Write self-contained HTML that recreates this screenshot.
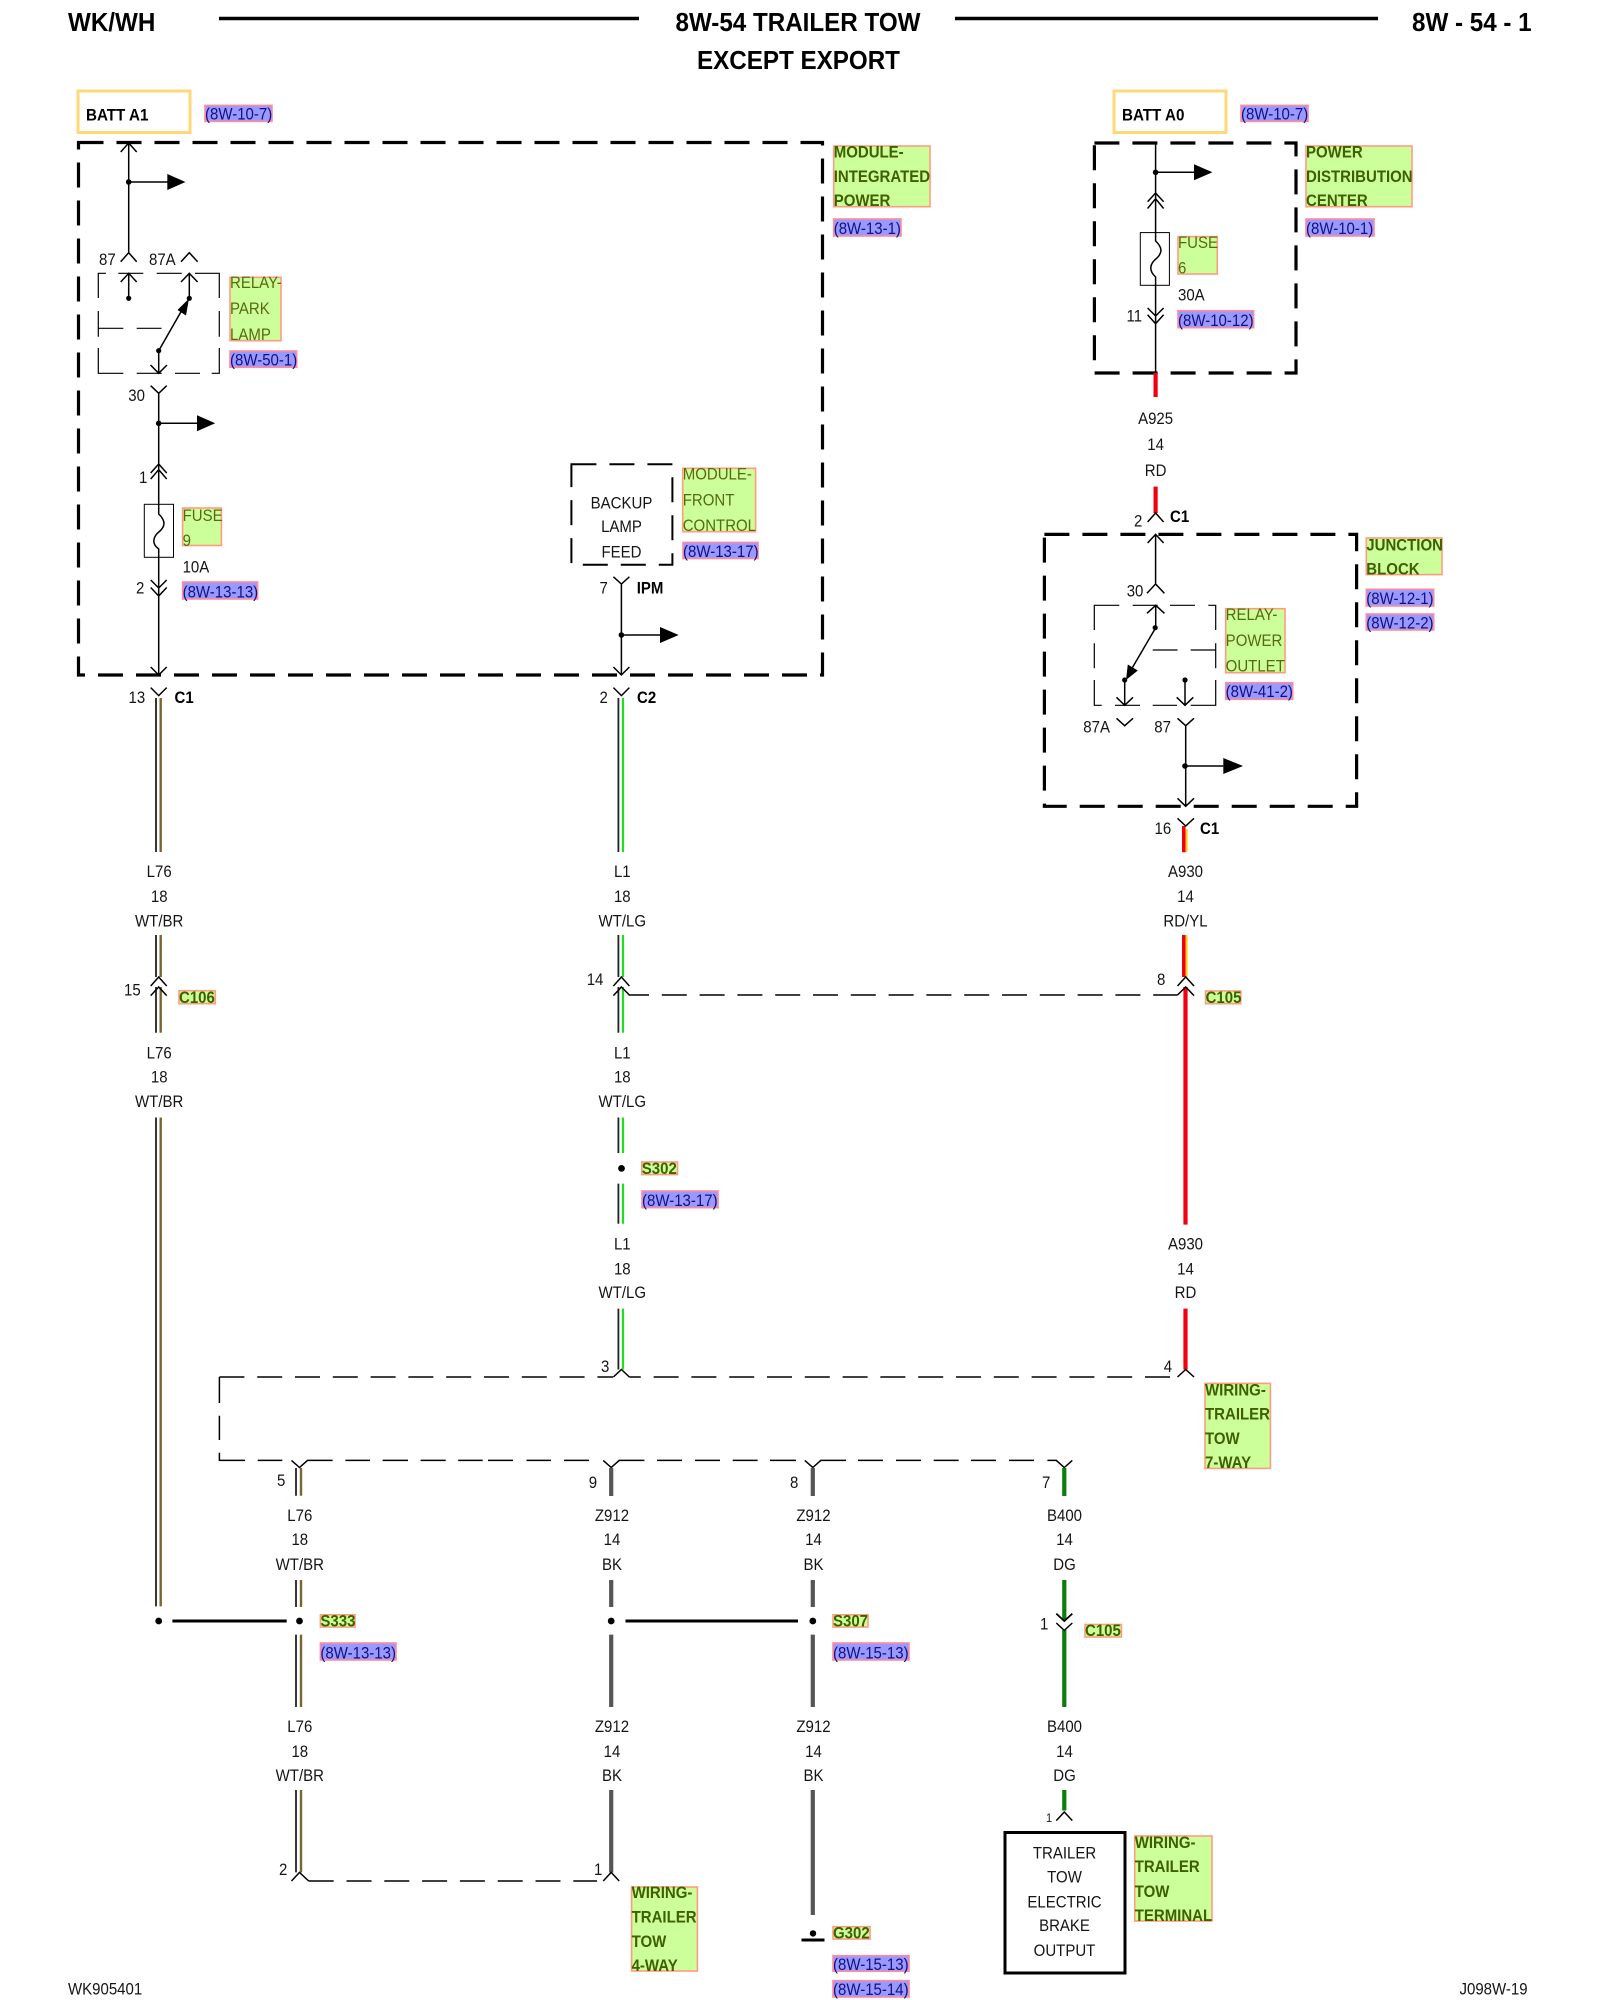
<!DOCTYPE html>
<html><head><meta charset="utf-8"><title>8W-54 Trailer Tow</title>
<style>
html,body{margin:0;padding:0;background:#fff}
svg{display:block}
text{font-family:"Liberation Sans",Arial,sans-serif;font-size:15px;fill:#151515;transform:scaleY(1.08);transform-box:fill-box;transform-origin:50% 81%}
.m{text-anchor:middle}
.b{font-weight:bold;fill:#000}
.g{fill:#586a10}
.gb{fill:#3f6000;font-weight:bold}
.n{fill:#101088}
.T{font-size:24.2px;font-weight:bold;fill:#000}
.h{fill:#ccff99;stroke:#ff9c80;stroke-width:1.6}
.l{fill:#9999ff;stroke:#ff8c9c;stroke-width:1.6}
.y{fill:none;stroke:#ffd87a;stroke-width:3}
.w{fill:none;stroke:#000;stroke-width:1.5}
.d{fill:none;stroke:#000;stroke-width:1.5;stroke-dasharray:25 12.8}
.D{fill:none;stroke:#000;stroke-width:3.2;stroke-dasharray:25 13}
.k{fill:none;stroke:#222;stroke-width:1.8}
.br{fill:none;stroke:#7a6432;stroke-width:2.4}
.lg{fill:none;stroke:#1fe01f;stroke-width:2.2}
.rd{fill:none;stroke:#f00010;stroke-width:4.2}
.bk{fill:none;stroke:#555;stroke-width:4.2}
.dg{fill:none;stroke:#0a7d0a;stroke-width:4.2}
</style></head>
<body>
<svg width="1600" height="2000" viewBox="0 0 1600 2000" xmlns="http://www.w3.org/2000/svg">
<rect width="1600" height="2000" fill="#fff"/>

<!-- header -->
<path d="M219 18.5H639M955 18.5H1378" stroke="#000" stroke-width="3.6" fill="none"/>
<text class="T" x="68" y="31">WK/WH</text>
<text class="T m" x="798" y="31">8W-54 TRAILER TOW</text>
<text class="T m" x="798.5" y="69">EXCEPT EXPORT</text>
<text class="T" x="1412" y="31">8W - 54 - 1</text>

<!-- BATT boxes -->
<rect class="y" x="78" y="91" width="112" height="41.5"/>
<text class="b" x="86" y="120.5" style="font-size:15.2px">BATT A1</text>
<rect class="l" x="205" y="105.4" width="67" height="16"/>
<text class="n" x="205" y="119.6">(8W-10-7)</text>
<rect class="y" x="1114" y="91" width="112" height="41.5"/>
<text class="b" x="1122" y="120.5" style="font-size:15.2px">BATT A0</text>
<rect class="l" x="1241" y="105.4" width="67" height="16"/>
<text class="n" x="1241" y="119.6">(8W-10-7)</text>

<!-- dashed module boxes -->
<path class="D" d="M78.5 142.5H822.5V675H78.5Z"/>
<path class="D" d="M1094.4 143H1296V373H1094.4Z"/>
<path class="D" d="M1044.4 534.4H1356.6V806.3H1044.4Z"/>
<path class="D" style="stroke-width:2" d="M571.4 464.3H672.4V564.7H571.4Z"/>

<!-- left column: upper -->
<path class="w" d="M128.7 143V252.7M120.7 152L128.7 143L136.7 152M128.7 182H168M120.7 261.7L128.7 252.7L136.7 261.7M181 261.7L189.3 252.7L197.6 261.7"/>
<circle cx="128.7" cy="182" r="2.8"/><path d="M167.3 174V190L185.5 182Z"/>
<text x="99" y="265">87</text><text x="149" y="265">87A</text>

<!-- relay park lamp -->
<path class="w" style="stroke-width:1.2" d="M98.3 280.7V273.3H106M118.3 273.3H143.3M156.7 273.3H181.7M195 273.3H219.3V298M219.3 311V336.7M219.3 348V373.3H211.7M200 373.3H175M161.7 373.3H136.7M123.3 373.3H98.3V348M98.3 336.7V311M98.3 298V273.3M98.3 328.3H123.3M136.7 328.3H161.5"/>
<path class="w" d="M128.7 273.3V298.3M120.7 282L128.7 273.3L136.7 282M189.3 273.3V298.3M181 282L189.3 273.3L197.6 282M158.7 350.7L182 310M158.7 350.7V373.3M150.5 365L158.7 373.3L167 365"/>
<circle cx="128.7" cy="298.3" r="2.6"/><circle cx="189.3" cy="298.3" r="2.6"/><circle cx="158.7" cy="350.7" r="2.6"/>
<path d="M189 298.5L177.5 310L186 315.5Z"/>
<rect class="h" x="230" y="277.3" width="51" height="63.4"/>
<text class="g" x="230" y="288.3">RELAY-</text><text class="g" x="230" y="314.3">PARK</text><text class="g" x="230" y="340">LAMP</text>
<rect class="l" x="230" y="351" width="66.7" height="16.3"/>
<text class="n" x="230" y="365.5">(8W-50-1)</text>

<!-- 30 + fuse 9 -->
<path class="w" d="M150.7 385.7L158.7 393.3L166.7 385.7M158.7 393.3V514C166 521 165 526 160 531C152 537 152 544 158.7 549V675M158.7 423.3H197M150.7 473L158.7 464L166.7 473M150.7 479L158.7 469.6L166.7 479M150.7 580L158.7 588L166.7 580M150.7 587.5L158.7 596L166.7 587.5M150.7 667L158.7 675L166.7 667"/>
<circle cx="158.7" cy="423.3" r="2.8"/><path d="M197 415.3V431.3L215.2 423.3Z"/>
<text x="128.3" y="401">30</text>
<text x="139" y="483">1</text>
<rect x="144.3" y="504.3" width="29.2" height="53" fill="none" stroke="#000" stroke-width="1"/>
<rect class="h" x="182.6" y="508" width="38.8" height="37.5"/>
<text class="g" x="182.6" y="521">FUSE</text><text class="g" x="182.6" y="546">9</text>
<text x="182.6" y="572.8">10A</text>
<text x="136" y="593.7">2</text>
<rect class="l" x="182.6" y="582" width="75" height="17"/>
<text class="n" x="182.6" y="597.5">(8W-13-13)</text>

<!-- backup lamp feed -->
<text class="m" x="621.5" y="508.5">BACKUP</text><text class="m" x="621.5" y="532.3">LAMP</text><text class="m" x="621.5" y="557.5">FEED</text>
<rect class="h" x="682.7" y="468.3" width="72.9" height="63.4"/>
<text class="g" x="682.7" y="479.5">MODULE-</text><text class="g" x="682.7" y="505.8">FRONT</text><text class="g" x="682.7" y="531">CONTROL</text>
<rect class="l" x="683" y="542.4" width="75" height="16.1"/>
<text class="n" x="683" y="557">(8W-13-17)</text>
<text x="599.5" y="593.7">7</text><text class="b" x="636.7" y="593.7">IPM</text>
<path class="w" d="M613.4 576.8L621.4 584L629.4 576.8M621.4 584V675M621.4 635H660M613.4 667L621.4 675L629.4 667"/>
<circle cx="621.4" cy="635" r="2.8"/><path d="M660 627V643L678.7 635Z"/>

<!-- module labels -->
<rect class="h" x="833.7" y="146" width="96.3" height="60.7"/>
<text class="gb" x="833.7" y="157.6">MODULE-</text><text class="gb" x="833.7" y="182">INTEGRATED</text><text class="gb" x="833.7" y="206">POWER</text>
<rect class="l" x="833.7" y="219" width="67.3" height="17"/>
<text class="n" x="833.7" y="234">(8W-13-1)</text>
<rect class="h" x="1306" y="146" width="106" height="60.7"/>
<text class="gb" x="1306" y="157.6">POWER</text><text class="gb" x="1306" y="182">DISTRIBUTION</text><text class="gb" x="1306" y="206">CENTER</text>
<rect class="l" x="1306" y="219" width="68" height="17"/>
<text class="n" x="1306" y="234">(8W-10-1)</text>

<!-- power distribution center -->
<path class="w" d="M1155.6 143V241C1163 248 1162 253 1157 258C1149 264 1149 271 1155.6 277V373M1155.6 172.3H1194M1147.6 201.8L1155.6 193L1163.6 201.8M1147.6 208.5L1155.6 198.7L1163.6 208.5M1147.6 308L1155.6 316L1163.6 308M1147.6 314.7L1155.6 323.7L1163.6 314.7"/>
<circle cx="1155.6" cy="172.3" r="2.8"/><path d="M1194 164.3V180.3L1212.4 172.3Z"/>
<rect x="1140.3" y="232.6" width="29.1" height="52.7" fill="none" stroke="#000" stroke-width="1"/>
<rect class="h" x="1178" y="236.6" width="39.3" height="37.4"/>
<text class="g" x="1178" y="248">FUSE</text><text class="g" x="1178" y="273.6">6</text>
<text x="1178" y="300.4">30A</text>
<text x="1126.5" y="321.4">11</text>
<rect class="l" x="1178" y="310.7" width="75.6" height="17"/>
<text class="n" x="1178" y="326">(8W-10-12)</text>

<!-- A925 -->
<path class="rd" d="M1155.6 373V397M1155.6 486.6V513"/>
<text class="m" x="1155.6" y="424">A925</text><text class="m" x="1155.6" y="450">14</text><text class="m" x="1155.6" y="476">RD</text>
<path class="w" d="M1147.6 522L1155.6 513L1163.6 522M1147.6 543L1155.6 534.4L1163.6 543M1155.6 534.4V584M1147 593.3L1155.6 584L1164.4 593.3"/>
<text x="1134" y="526.8">2</text><text class="b" x="1170" y="522">C1</text>
<text x="1126.7" y="596.7">30</text>
<rect class="h" x="1366.3" y="538" width="75.7" height="36.6"/>
<text class="gb" x="1366.3" y="550.4">JUNCTION</text><text class="gb" x="1366.3" y="574.6">BLOCK</text>
<rect class="l" x="1366.3" y="589.3" width="67.4" height="16.7"/>
<text class="n" x="1366.3" y="604.2">(8W-12-1)</text>
<rect class="l" x="1366.3" y="614" width="67.4" height="16"/>
<text class="n" x="1366.3" y="628.6">(8W-12-2)</text>

<!-- relay power outlet -->
<path class="w" style="stroke-width:1.2" d="M1094.3 630V605.3H1119.3M1132.7 605.3H1157.7M1170 605.3H1195M1208.3 605.3H1215.7V630M1215.7 643.3V668.3M1215.7 680V705.3H1190.7M1177 705.3H1152.7M1140 705.3H1115M1101.7 705.3H1094.3V680M1094.3 668.3V643.3M1152.7 650H1177.5M1190.7 650H1215.7"/>
<path class="w" d="M1155.7 605.3V627.7M1147 613.3L1155.7 605.3L1164.4 613.3M1155.7 627.7L1131 670M1124.7 680V705.3M1116.5 697.3L1124.7 705.3L1133 697.3M1185 680V705.3M1176.7 697.3L1185 705.3L1193.3 697.3M1116.5 718.3L1124.7 725.7L1133 718.3M1177.5 718.3L1185.7 725.7L1194 718.3M1185.7 725.7V806.3M1185.7 766H1223.3M1177.5 798.3L1185.7 806.3L1194 798.3M1177.5 818.3L1185.7 826L1194 818.3"/>
<circle cx="1155.2" cy="627.7" r="2.6"/><circle cx="1124.7" cy="680" r="2.6"/><circle cx="1185" cy="680" r="2.6"/><circle cx="1185" cy="766" r="2.8"/>
<path d="M1126 680L1127.8 664.5L1137.8 670.5Z"/>
<path d="M1223.3 758V774L1243 766Z"/>
<rect class="h" x="1225.7" y="608.7" width="59.3" height="64"/>
<text class="g" x="1225.7" y="620">RELAY-</text><text class="g" x="1225.7" y="646">POWER</text><text class="g" x="1225.7" y="671.7">OUTLET</text>
<rect class="l" x="1225.7" y="682.7" width="67" height="16.6"/>
<text class="n" x="1225.7" y="697">(8W-41-2)</text>
<text x="1083.3" y="732.7">87A</text><text x="1154.3" y="732.7">87</text>
<text x="1154.5" y="834">16</text><text class="b" x="1200" y="834">C1</text>

<!-- connectors at C1/C2 -->
<path class="w" d="M150.7 687.6L158.7 695.6L166.7 687.6M613.4 687.6L621.4 695.6L629.4 687.6"/>
<text x="128.5" y="703">13</text><text class="b" x="174.5" y="703">C1</text>
<text x="599.5" y="703">2</text><text class="b" x="637" y="703">C2</text>

<!-- L76 column -->
<path class="k" d="M156 698V852M156 935V977M156 987V1032.7M156 1117.5V1606.4"/>
<path class="br" d="M160.7 698V852M160.7 935V977M160.7 987V1032.7M160.7 1117.5V1606.4"/>
<path class="w" d="M150.7 986L158.7 977L166.7 986M150.7 995.6L158.7 987L166.7 995.6"/>
<text class="m" x="159.2" y="877">L76</text><text class="m" x="159.2" y="902">18</text><text class="m" x="159.2" y="926.4">WT/BR</text>
<text x="124" y="995.6">15</text>
<rect class="h" x="179" y="990.7" width="36.3" height="13"/>
<text class="gb" x="179" y="1003">C106</text>
<text class="m" x="159.2" y="1058.6">L76</text><text class="m" x="159.2" y="1082.7">18</text><text class="m" x="159.2" y="1107">WT/BR</text>

<!-- L1 column -->
<path class="k" d="M618.4 698V852M618.4 935V977M618.4 987V1032.7M618.4 1117.5V1153M618.4 1183.6V1223.8M618.4 1308.6V1369.5"/>
<path class="lg" d="M623 698V852M623 935V977M623 987V1032.7M623 1117.5V1153M623 1183.6V1223.8M623 1308.6V1369.5"/>
<path class="w" d="M613.4 986L621.4 977L629.4 986M613.4 995.6L621.4 987L629.4 995M613.4 1377L621.4 1369.5L629.4 1377"/>
<text class="m" x="622.3" y="877">L1</text><text class="m" x="622.3" y="902">18</text><text class="m" x="622.3" y="926.4">WT/LG</text>
<text x="586.7" y="985">14</text>
<text class="m" x="622.3" y="1058.6">L1</text><text class="m" x="622.3" y="1082.7">18</text><text class="m" x="622.3" y="1107">WT/LG</text>
<circle cx="621.5" cy="1168.4" r="3.4"/>
<rect class="h" x="641.8" y="1162" width="35.7" height="12.6"/>
<text class="gb" x="641.8" y="1174">S302</text>
<rect class="l" x="642" y="1191" width="76" height="16.7"/>
<text class="n" x="642" y="1206">(8W-13-17)</text>
<text class="m" x="622.3" y="1249.6">L1</text><text class="m" x="622.3" y="1274.6">18</text><text class="m" x="622.3" y="1298.3">WT/LG</text>
<text x="601" y="1372">3</text>

<!-- A930 column -->
<path d="M1182 826H1185.5V852.3H1182ZM1182 935H1185.5V977H1182Z" fill="#f00010"/>
<path d="M1185.5 829H1187.6V852.3H1185.5ZM1185.5 935H1187.6V977H1185.5Z" fill="#f4d21e"/>
<path class="rd" d="M1185.5 987V1224.6M1185.5 1308.6V1369.5"/>
<path class="w" d="M1177.5 986L1185.7 977L1194 986M1177.5 995L1185.7 987L1194 995.6M1177.5 1377L1185.7 1369.5L1194 1377"/>
<text class="m" x="1185.5" y="877">A930</text><text class="m" x="1185.5" y="902">14</text><text class="m" x="1185.5" y="926.4">RD/YL</text>
<text x="1157" y="985">8</text>
<rect class="h" x="1205.6" y="991" width="35.2" height="12.7"/>
<text class="gb" x="1205.6" y="1003">C105</text>
<text class="m" x="1185.5" y="1249.6">A930</text><text class="m" x="1185.5" y="1274.6">14</text><text class="m" x="1185.5" y="1298.3">RD</text>
<text x="1163.8" y="1372">4</text>
<rect class="h" x="1205" y="1383.4" width="65.4" height="85"/>
<text class="gb" x="1205" y="1395.5">WIRING-</text><text class="gb" x="1205" y="1419.5">TRAILER</text><text class="gb" x="1205" y="1444">TOW</text><text class="gb" x="1205" y="1468">7-WAY</text>

<!-- horizontal dashed harness -->
<path class="d" stroke-dashoffset="4.6" style="stroke-dashoffset:4.6" d="M628.6 995H1177.5"/>
<path class="d" d="M219.4 1377H613"/>
<path class="d" style="stroke-dashoffset:13.6" d="M629.4 1377H1177.5"/>
<path class="w" d="M219.4 1377V1403M219.4 1415.8V1440M219.4 1452.8V1460.4H245M257.7 1460.4H282.3M291.5 1460.4L299.5 1467.5L307.5 1460.4H332.6M345.4 1460.4H370M382.6 1460.4H408M420.6 1460.4H445.7M458.2 1460.4H482.7M488 1460.4H513M526.5 1460.4H551M564 1460.4H589M603.2 1460.4L611.2 1467.5L619.2 1460.4H644.4M657 1460.4H682M695 1460.4H720M732.7 1460.4H757.6M770 1460.4H796M804.8 1460.4L812.8 1467.5L820.8 1460.4H846M858 1460.4H883M896 1460.4H921M933.7 1460.4H958.7M971 1460.4H996M1009 1460.4H1034M1047.4 1460.4H1056.3L1064.3 1467.5L1072.3 1460.4"/>

<!-- column labels row -->
<text x="277" y="1486">5</text><text x="588.8" y="1488">9</text><text x="790" y="1488">8</text><text x="1042" y="1488">7</text>

<!-- L76 lower -->
<path class="k" d="M296 1468V1495.7M296 1580V1607M296 1634.6V1707M296 1790V1872.4"/>
<path class="br" d="M301 1468V1495.7M301 1580V1607M301 1634.6V1707M301 1790V1872.4"/>
<text class="m" x="299.8" y="1521">L76</text><text class="m" x="299.8" y="1545">18</text><text class="m" x="299.8" y="1570">WT/BR</text>
<text class="m" x="299.8" y="1732">L76</text><text class="m" x="299.8" y="1757">18</text><text class="m" x="299.8" y="1781">WT/BR</text>

<!-- splice row -->
<path d="M172.4 1621H286.7M625.5 1621H798" stroke="#000" stroke-width="3" fill="none"/>
<circle cx="158.7" cy="1621" r="3.4"/><circle cx="299.5" cy="1621" r="3.4"/><circle cx="611.2" cy="1621" r="3.4"/><circle cx="812.8" cy="1621" r="3.4"/>
<rect class="h" x="320.4" y="1614.8" width="34.6" height="12.2"/>
<text class="gb" x="320.4" y="1626.4">S333</text>
<rect class="l" x="320.4" y="1643" width="75.6" height="17"/>
<text class="n" x="320.4" y="1658.5">(8W-13-13)</text>
<rect class="h" x="833" y="1614.8" width="35" height="12.2"/>
<text class="gb" x="833" y="1626.4">S307</text>
<rect class="l" x="833" y="1643" width="76" height="17"/>
<text class="n" x="833" y="1658.5">(8W-15-13)</text>

<!-- Z912 columns -->
<path class="bk" d="M611.2 1468V1496M611.2 1580V1607M611.2 1634.6V1707M611.2 1790V1872.4M812.8 1468V1496M812.8 1580V1607M812.8 1634.6V1707M812.8 1790V1915"/>
<text class="m" x="612" y="1521">Z912</text><text class="m" x="612" y="1545">14</text><text class="m" x="612" y="1570">BK</text>
<text class="m" x="612" y="1732">Z912</text><text class="m" x="612" y="1757">14</text><text class="m" x="612" y="1781">BK</text>
<text class="m" x="813.5" y="1521">Z912</text><text class="m" x="813.5" y="1545">14</text><text class="m" x="813.5" y="1570">BK</text>
<text class="m" x="813.5" y="1732">Z912</text><text class="m" x="813.5" y="1757">14</text><text class="m" x="813.5" y="1781">BK</text>

<!-- lower dashed -->
<path class="w" d="M291.5 1881L299.5 1872.4L308.7 1881M603.2 1881L611.2 1872.4L619.2 1881"/>
<path class="d" d="M308.7 1881H597"/>
<text x="279" y="1875">2</text><text x="594" y="1875">1</text>
<rect class="h" x="631.6" y="1887" width="65.8" height="84"/>
<text class="gb" x="631.6" y="1898">WIRING-</text><text class="gb" x="631.6" y="1922.5">TRAILER</text><text class="gb" x="631.6" y="1947">TOW</text><text class="gb" x="631.6" y="1971">4-WAY</text>

<!-- G302 -->
<circle cx="813" cy="1933.4" r="3.2"/>
<path d="M801.5 1940H824.5" stroke="#000" stroke-width="3" fill="none"/>
<rect class="h" x="833" y="1926.7" width="37" height="12.3"/>
<text class="gb" x="833" y="1938.4">G302</text>
<rect class="l" x="833" y="1955.7" width="76" height="15.5"/>
<text class="n" x="833" y="1970">(8W-15-13)</text>
<rect class="l" x="833" y="1980.6" width="76" height="16.4"/>
<text class="n" x="833" y="1995">(8W-15-14)</text>

<!-- B400 -->
<path class="dg" d="M1064.3 1468V1496M1064.3 1580V1620M1064.3 1630V1707M1064.3 1790V1810.5"/>
<path class="w" style="stroke-width:1.8" d="M1056.3 1613.6L1064.3 1621L1072.3 1613.6"/>
<path class="w" d="M1056.3 1623L1064.3 1630.4L1072.3 1623M1056.3 1820.6L1064.3 1812L1072.3 1820.6"/>
<text class="m" x="1064.5" y="1521">B400</text><text class="m" x="1064.5" y="1545">14</text><text class="m" x="1064.5" y="1570">DG</text>
<text x="1040" y="1629.6">1</text>
<rect class="h" x="1085" y="1624.5" width="36.4" height="12.5"/>
<text class="gb" x="1085" y="1636.3">C105</text>
<text class="m" x="1064.5" y="1732">B400</text><text class="m" x="1064.5" y="1757">14</text><text class="m" x="1064.5" y="1781">DG</text>
<text x="1046" y="1822" style="font-size:11px">1</text>
<rect x="1005" y="1832.5" width="120" height="140.5" fill="none" stroke="#000" stroke-width="3"/>
<text class="m" x="1064.5" y="1858.5">TRAILER</text><text class="m" x="1064.5" y="1882.5">TOW</text><text class="m" x="1064.5" y="1907.4">ELECTRIC</text><text class="m" x="1064.5" y="1931.3">BRAKE</text><text class="m" x="1064.5" y="1956">OUTPUT</text>
<rect class="h" x="1134.7" y="1836" width="77.3" height="85"/>
<text class="gb" x="1134.7" y="1848">WIRING-</text><text class="gb" x="1134.7" y="1872">TRAILER</text><text class="gb" x="1134.7" y="1897">TOW</text><text class="gb" x="1134.7" y="1921">TERMINAL</text>

<!-- footer -->
<text x="68" y="1994.5">WK905401</text>
<text x="1459.5" y="1994.5">J098W-19</text>
</svg>
</body></html>
